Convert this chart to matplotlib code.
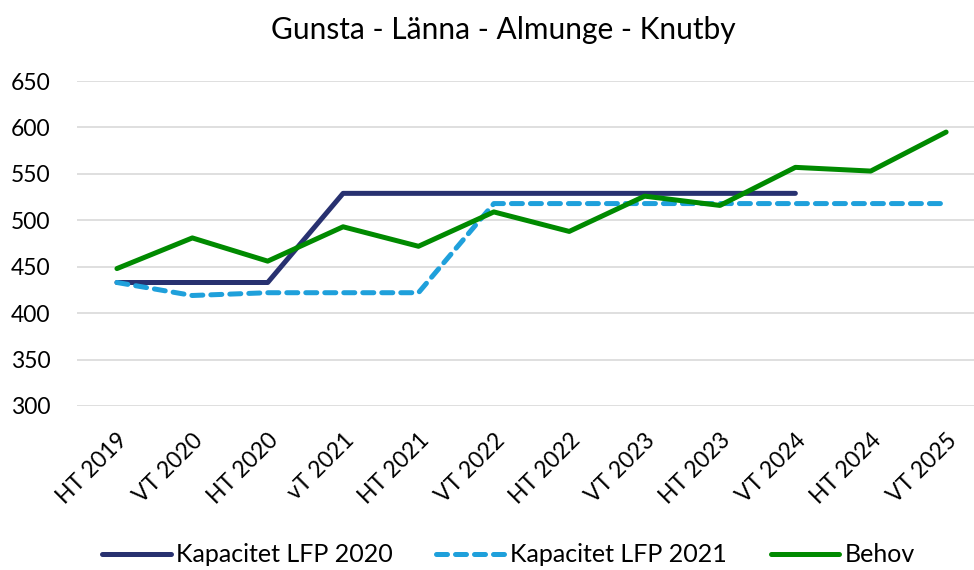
import matplotlib
matplotlib.use("Agg")
import matplotlib.pyplot as plt

terms = ["HT 2019", "VT 2020", "HT 2020", "vT 2021", "HT 2021", "VT 2022",
         "HT 2022", "VT 2023", "HT 2023", "VT 2024", "HT 2024", "VT 2025"]
kap_2020 = [433, 433, 433, 529, 529, 529, 529, 529, 529, 529]
kap_2021 = [433, 419, 422, 422, 422, 518, 518, 518, 518, 518, 518, 518]
behov = [448, 481, 456, 493, 472, 509, 488, 526, 516, 557, 553, 595]

plt.rcParams["font.family"] = ["Lato", "DejaVu Sans"]

fig = plt.figure(figsize=(9.74, 5.70), dpi=100)
ax = fig.add_axes([77 / 974, 1 - 406 / 570, 1 - 77 / 974, (406 - 81) / 570])

x = list(range(len(terms)))
ax.plot(x[:len(kap_2020)], kap_2020, color="#283170", lw=3.6,
        solid_capstyle="round", label="Kapacitet LFP 2020", zorder=3)
ax.plot(x, kap_2021, color="#1FA0DB", lw=3.6, linestyle=(0, (2.2, 1.6)),
        dash_capstyle="round", label="Kapacitet LFP 2021", zorder=3)
ax.plot(x, behov, color="#008A00", lw=3.6, solid_capstyle="round",
        label="Behov", zorder=4)

ax.set_xlim(-0.53, 11.37)
ax.set_ylim(300, 650)
ax.set_yticks(range(300, 651, 50))
ax.set_xticks(x)
ax.set_xticklabels(terms, rotation=45, ha="right", rotation_mode="anchor")
ax.tick_params(axis="both", length=0, labelsize=16.5, colors="black")
ax.tick_params(axis="y", pad=19)
ax.tick_params(axis="x", pad=17)
ax.grid(axis="y", color="#D9D9D9", lw=1.2)
ax.set_axisbelow(True)
for s in ax.spines.values():
    s.set_visible(False)

fig.text(0.517, 1 - 30 / 570, "Gunsta - Länna - Almunge - Knutby",
         ha="center", va="center", fontsize=21.5)
fig.legend(loc="center", bbox_to_anchor=(0.522, 1 - 555 / 570), ncol=3,
           frameon=False, fontsize=18, handlelength=2.75, columnspacing=1.75,
           handletextpad=0.2)

fig.savefig("out.png", dpi=100)
